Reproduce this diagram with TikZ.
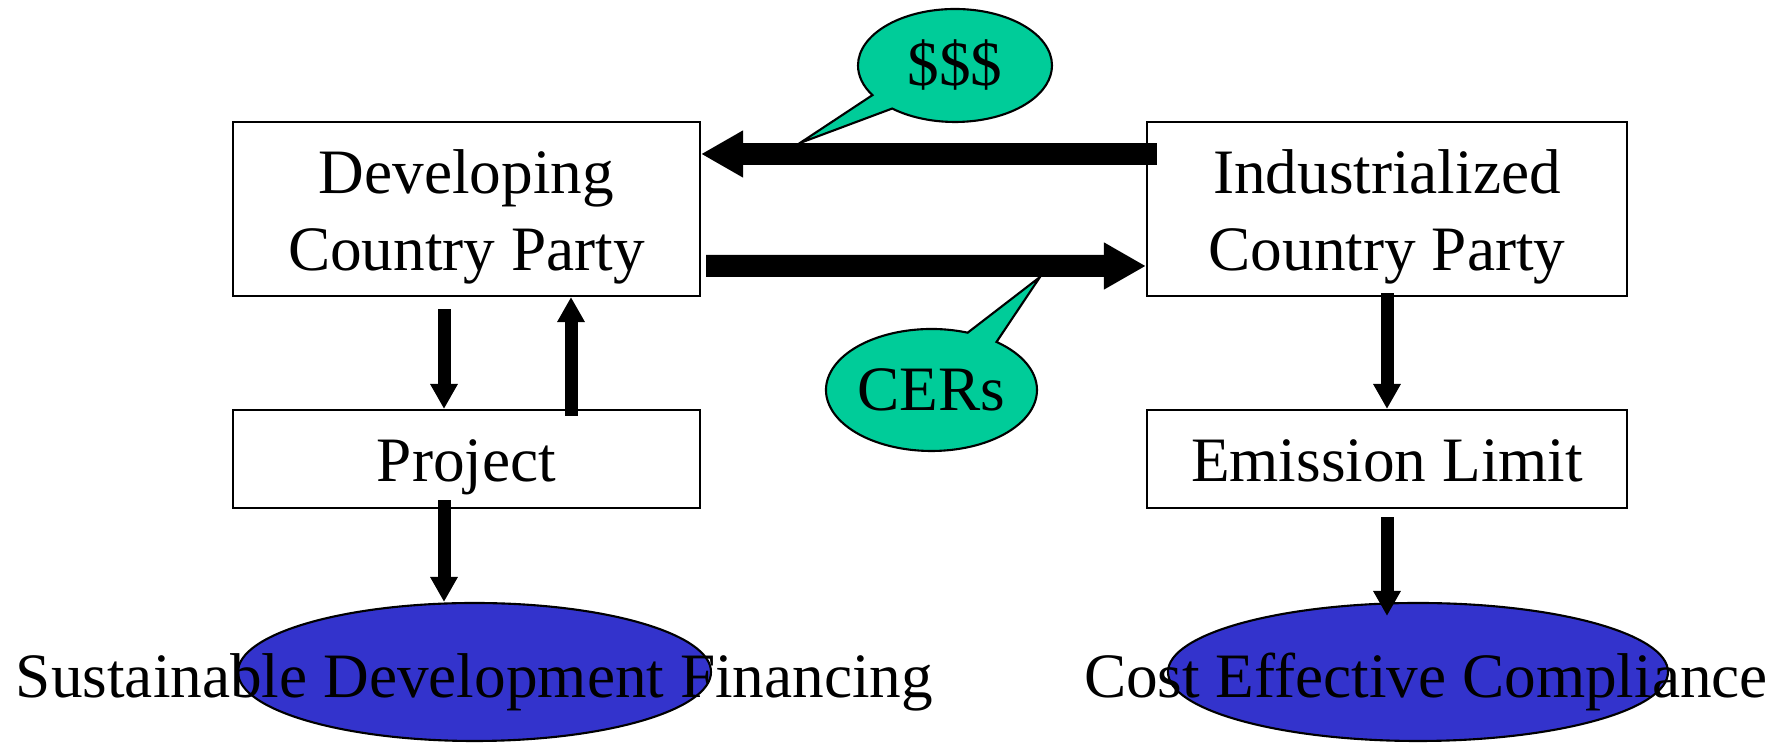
\documentclass[tikz,border=0pt]{standalone}
\usepackage{fontspec}
\setmainfont{Liberation Serif}
\definecolor{CalloutGreen}{RGB}{0,204,153}
\definecolor{GoalBlue}{RGB}{51,51,204}
\newcommand{\linestrut}{\rule[-4.3pt]{0pt}{21.6pt}}
\usetikzlibrary{shapes.callouts, shapes.geometric, arrows.meta, calc}

\begin{document}
\begin{tikzpicture}[x=1cm, y=-1cm,
    font=\fontsize{18pt}{22pt}\selectfont,
    party/.style={draw, line width=0.6pt, minimum width=4.67cm, minimum height=1.74cm, align=center, inner sep=0pt},
    stage/.style={draw, line width=0.6pt, minimum width=4.67cm, minimum height=0.98cm, inner sep=0pt,
      execute at begin node=\linestrut},
    goal/.style={ellipse, draw, line width=0.6pt, fill=GoalBlue, minimum width=4.73cm, minimum height=1.38cm, inner sep=0pt},
    bubble/.style={ellipse callout, draw, line width=0.6pt, fill=CalloutGreen, inner sep=0pt, callout pointer arc=18},
    flow/.style={line width=0.22cm, -{Triangle[width=0.44cm, length=0.42cm]}},
    link/.style={line width=0.13cm, -{Triangle[width=0.26cm, length=0.25cm]}}]
  \useasboundingbox (0,0) rectangle (17.86,7.43);

  % parties and their outcomes
  \node[party] (dev) at (4.665,2.09) {\linestrut Developing\\Country Party\linestrut};
  \node[party, minimum width=4.8cm] (ind) at (13.87,2.09) {\linestrut Industrialized\\Country Party\linestrut};
  \node[stage] (proj) at (4.665,4.59) {Project};
  \node[stage, minimum width=4.8cm] (emis) at (13.87,4.59) {Emission Limit};
  \node[goal] (sdf) at (4.745,6.72) {};
  \node[goal, minimum width=5.0cm] (cec) at (14.18,6.72) {};
  \node[anchor=base] (sdftext) at ([shift={(0,0.26)}]sdf.center) {Sustainable Development Financing};
  \node[anchor=base] (cectext) at ([shift={(0.08,0.26)}]cec.center) {Cost Effective Compliance};

  % money and credits
  \draw[flow] ([shift={(0.11,-0.55)}]ind.west) -- ([yshift=0.55cm]dev.east);
  \draw[flow] ([shift={(0.05,0.57)}]dev.east) -- ([yshift=-0.57cm]ind.west);

  % left column
  \coordinate (pd) at ([xshift=-0.225cm]proj.south);
  \draw[link] ([shift={(-0.225,0.12)}]dev.south) -- ([xshift=-0.225cm]proj.north);
  \draw[link] ([shift={(1.045,0.07)}]proj.north) -- ([xshift=1.045cm]dev.south);
  \draw[link] ([yshift=0.09cm]pd) -- (pd |- sdf.north);

  % right column
  \draw[link] ([yshift=0.04cm]ind.south) -- (emis.north);
  \draw[link] ([yshift=-0.08cm]emis.south) -- ($(emis.south |- cec.north)+(0,0.14)$);

  % callouts
  \coordinate (paytip) at (8.00,1.43);
  \coordinate (certip) at (10.40,2.77);
  \node[bubble, minimum width=1.94cm, minimum height=1.13cm, callout absolute pointer={(paytip)}] (pay) at (9.55,0.655) {\$\$\$};
  \node[bubble, minimum width=2.11cm, minimum height=1.22cm, callout absolute pointer={(certip)}] (cer) at (9.315,3.90) {CERs};
\end{tikzpicture}
\end{document}
